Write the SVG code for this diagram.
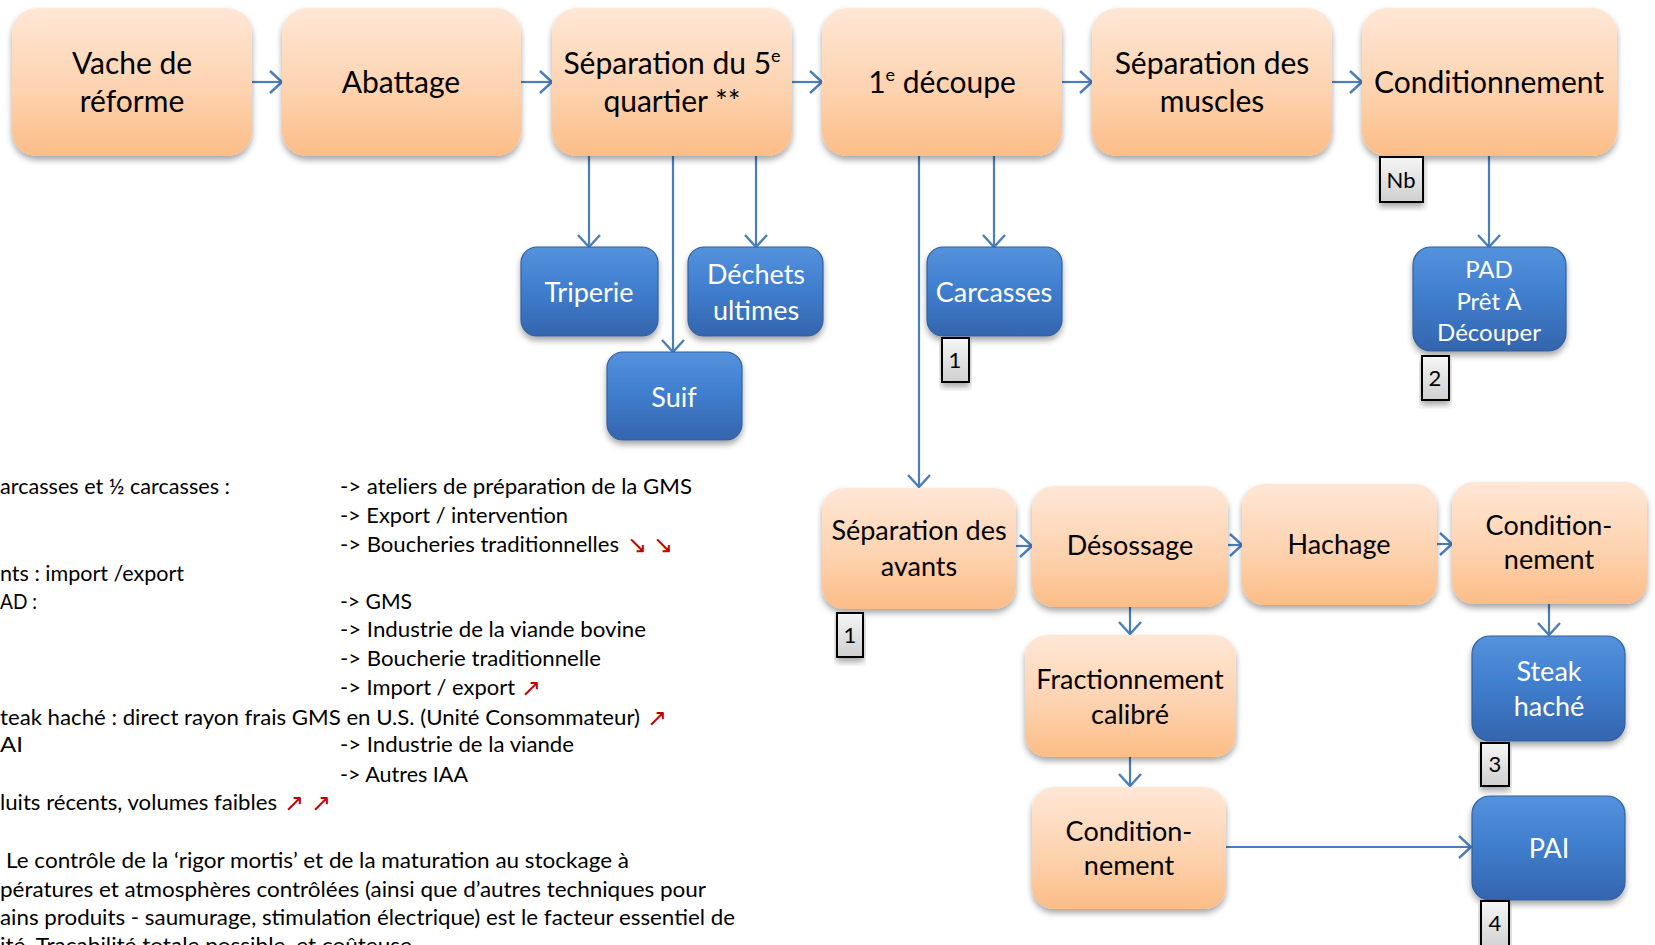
<svg xmlns="http://www.w3.org/2000/svg" width="1655" height="945" viewBox="0 0 1655 945">
  <defs>
    <linearGradient id="gOrange" x1="0" y1="0" x2="0" y2="1">
      <stop offset="0" stop-color="#fee7d6"/>
      <stop offset="0.55" stop-color="#fdd3b0"/>
      <stop offset="1" stop-color="#fcbd87"/>
    </linearGradient>
    <linearGradient id="gBlue" x1="0" y1="0" x2="0" y2="1">
      <stop offset="0" stop-color="#5592dc"/>
      <stop offset="0.45" stop-color="#407fcf"/>
      <stop offset="1" stop-color="#3465ad"/>
    </linearGradient>
    <linearGradient id="gTag" x1="0" y1="0" x2="0" y2="1">
      <stop offset="0" stop-color="#f6f6f6"/>
      <stop offset="1" stop-color="#cfcfcf"/>
    </linearGradient>
    <filter id="shadow" x="-10%" y="-10%" width="120%" height="130%">
      <feDropShadow dx="0" dy="4" stdDeviation="3" flood-color="#000" flood-opacity="0.35"/>
    </filter>
    <marker id="arrow" viewBox="0 0 14 24" refX="13" refY="12" markerWidth="14" markerHeight="24" markerUnits="userSpaceOnUse" orient="auto">
      <path d="M1,1 L13,12 L1,23" fill="none" stroke="#4a7ebb" stroke-width="2.4"/>
    </marker>
  </defs>
  <style>
    .proc rect { fill: url(#gOrange); filter: url(#shadow); }
    .prod rect { fill: url(#gBlue); stroke: #31609f; stroke-width: 1.2; filter: url(#shadow); }
    .tag rect { fill: url(#gTag); stroke: #000; stroke-width: 2; filter: url(#shadow); }
    .proc text { font-family: Lato, "Noto Sans", sans-serif; fill: #000; text-anchor: middle; }
    .prod text { font-family: Lato, "Noto Sans", sans-serif; fill: #fff; text-anchor: middle; }
    .tag text { font-family: Lato, "Noto Sans", sans-serif; fill: #000; font-size: 22px; text-anchor: middle; }
    .big { font-size: 30px; }
    .mid { font-size: 27px; }
    .blue { font-size: 27px; }
    .pad { font-size: 24px; }
    .sup { font-size: 18px; }
    #connectors path { fill: none; stroke: #4a7ebb; stroke-width: 2.2; marker-end: url(#arrow); }
    .legend text { font-family: Lato, "Noto Sans", sans-serif; font-size: 21px; fill: #000; }
    .legend .trend { font-family: "DejaVu Sans", sans-serif; fill: #c00000; font-size: 24px; }
  </style>

  <!-- connectors -->
  <g id="connectors">
    <path d="M252,82 H282"/>
    <path d="M521,82 H552"/>
    <path d="M792,82 H822"/>
    <path d="M1062,82 H1092"/>
    <path d="M1332,82 H1362"/>
    <path d="M589,156 V247"/>
    <path d="M673,156 V352"/>
    <path d="M756,156 V247"/>
    <path d="M919,156 V487"/>
    <path d="M994,156 V247"/>
    <path d="M1489,156 V247"/>
    <path d="M1016,546 H1032"/>
    <path d="M1228,545 H1242"/>
    <path d="M1437,544 H1452"/>
    <path d="M1130,607 V634"/>
    <path d="M1549,604 V635"/>
    <path d="M1130,757 V786"/>
    <path d="M1226,847 H1471"/>
  </g>

  <!-- main chain -->
  <g id="n-vache" class="proc">
    <rect x="12" y="8" width="240" height="148" rx="25"/>
    <text class="big" x="132" y="74">Vache de</text>
    <text class="big" x="132" y="112">réforme</text>
  </g>
  <g id="n-abattage" class="proc">
    <rect x="282" y="8" width="239" height="148" rx="25"/>
    <text class="big" x="401" y="93">Abattage</text>
  </g>
  <g id="n-separation5" class="proc">
    <rect x="552" y="8" width="240" height="148" rx="25"/>
    <text class="big" x="672" y="74">Séparation du 5<tspan class="sup" dy="-12">e</tspan></text>
    <text class="big" x="672" y="112">quartier **</text>
  </g>
  <g id="n-decoupe" class="proc">
    <rect x="822" y="8" width="240" height="148" rx="25"/>
    <text class="big" x="942" y="93">1<tspan class="sup" dy="-12">e</tspan><tspan dy="12"> découpe</tspan></text>
  </g>
  <g id="n-muscles" class="proc">
    <rect x="1092" y="8" width="240" height="148" rx="25"/>
    <text class="big" x="1212" y="74">Séparation des</text>
    <text class="big" x="1212" y="112">muscles</text>
  </g>
  <g id="n-cond1" class="proc">
    <rect x="1362" y="8" width="255" height="148" rx="25"/>
    <text class="big" x="1489" y="93">Conditionnement</text>
  </g>

  <!-- fifth-quarter outputs -->
  <g id="n-triperie" class="prod">
    <rect x="521" y="247" width="137" height="89" rx="16"/>
    <text class="blue" x="589" y="302">Triperie</text>
  </g>
  <g id="n-dechets" class="prod">
    <rect x="688" y="247" width="135" height="89" rx="16"/>
    <text class="blue" x="756" y="284">Déchets</text>
    <text class="blue" x="756" y="320">ultimes</text>
  </g>
  <g id="n-suif" class="prod">
    <rect x="607" y="352" width="135" height="88" rx="16"/>
    <text class="blue" x="674" y="407">Suif</text>
  </g>
  <g id="n-carcasses" class="prod">
    <rect x="927" y="247" width="135" height="89" rx="16"/>
    <text class="blue" x="994" y="302">Carcasses</text>
  </g>
  <g id="n-pad" class="prod">
    <rect x="1413" y="247" width="153" height="104" rx="18"/>
    <text class="pad" x="1489" y="278">PAD</text>
    <text class="pad" x="1489" y="310">Prêt À</text>
    <text class="pad" x="1489" y="341">Découper</text>
  </g>

  <!-- forequarter chain -->
  <g id="n-avants" class="proc">
    <rect x="822" y="488" width="194" height="121" rx="22"/>
    <text class="mid" x="919" y="540">Séparation des</text>
    <text class="mid" x="919" y="576">avants</text>
  </g>
  <g id="n-desossage" class="proc">
    <rect x="1032" y="486" width="196" height="121" rx="22"/>
    <text class="mid" x="1130" y="555">Désossage</text>
  </g>
  <g id="n-hachage" class="proc">
    <rect x="1242" y="484" width="195" height="121" rx="22"/>
    <text class="mid" x="1339" y="554">Hachage</text>
  </g>
  <g id="n-cond2" class="proc">
    <rect x="1452" y="482" width="195" height="122" rx="22"/>
    <text class="mid" x="1549" y="535">Condition-</text>
    <text class="mid" x="1549" y="569">nement</text>
  </g>
  <g id="n-fraction" class="proc">
    <rect x="1025" y="635" width="211" height="122" rx="22"/>
    <text class="mid" x="1130" y="689">Fractionnement</text>
    <text class="mid" x="1130" y="724">calibré</text>
  </g>
  <g id="n-cond3" class="proc">
    <rect x="1032" y="787" width="194" height="122" rx="22"/>
    <text class="mid" x="1129" y="841">Condition-</text>
    <text class="mid" x="1129" y="875">nement</text>
  </g>
  <g id="n-steak" class="prod">
    <rect x="1472" y="636" width="153" height="105" rx="18"/>
    <text class="blue" x="1549" y="681">Steak</text>
    <text class="blue" x="1549" y="716">haché</text>
  </g>
  <g id="n-pai" class="prod">
    <rect x="1472" y="796" width="153" height="104" rx="18"/>
    <text class="blue" x="1549" y="858">PAI</text>
  </g>

  <!-- numbered tags -->
  <g id="t-nb" class="tag">
    <rect x="1380" y="157" width="43" height="45"/>
    <text x="1401" y="188">Nb</text>
  </g>
  <g id="t-1a" class="tag">
    <rect x="942" y="338" width="27" height="44"/>
    <text x="955" y="368">1</text>
  </g>
  <g id="t-2" class="tag">
    <rect x="1422" y="356" width="27" height="44"/>
    <text x="1435" y="386">2</text>
  </g>
  <g id="t-1b" class="tag">
    <rect x="837" y="613" width="26" height="44"/>
    <text x="850" y="643">1</text>
  </g>
  <g id="t-3" class="tag">
    <rect x="1481" y="743" width="28" height="43"/>
    <text x="1495" y="772">3</text>
  </g>
  <g id="t-4" class="tag">
    <rect x="1481" y="901" width="28" height="50"/>
    <text x="1495" y="931">4</text>
  </g>

  <!-- legend text -->
  <g id="legend" class="legend">
    <text x="0" y="494" textLength="230" lengthAdjust="spacingAndGlyphs">arcasses et ½ carcasses :</text>
    <text x="340" y="494" textLength="352" lengthAdjust="spacingAndGlyphs">-&gt; ateliers de préparation de la GMS</text>
    <text x="340" y="523" textLength="228" lengthAdjust="spacingAndGlyphs">-&gt; Export / intervention</text>
    <text x="340" y="552" textLength="279" lengthAdjust="spacingAndGlyphs">-&gt; Boucheries traditionnelles</text>
    <text class="trend" x="627" y="553">↘</text>
    <text class="trend" x="653" y="553">↘</text>
    <text x="0" y="581" textLength="184" lengthAdjust="spacingAndGlyphs">nts : import /export</text>
    <text x="0" y="609" textLength="37" lengthAdjust="spacingAndGlyphs">AD :</text>
    <text x="340" y="609" textLength="72" lengthAdjust="spacingAndGlyphs">-&gt; GMS</text>
    <text x="340" y="637" textLength="306" lengthAdjust="spacingAndGlyphs">-&gt; Industrie de la viande bovine</text>
    <text x="340" y="666" textLength="261" lengthAdjust="spacingAndGlyphs">-&gt; Boucherie traditionnelle</text>
    <text x="340" y="695" textLength="175" lengthAdjust="spacingAndGlyphs">-&gt; Import / export</text>
    <text class="trend" x="521" y="696">↗</text>
    <text x="0" y="725" textLength="640" lengthAdjust="spacingAndGlyphs">teak haché : direct rayon frais GMS en U.S. (Unité Consommateur)</text>
    <text class="trend" x="647" y="726">↗</text>
    <text x="0" y="752" textLength="23" lengthAdjust="spacingAndGlyphs">AI</text>
    <text x="340" y="752" textLength="234" lengthAdjust="spacingAndGlyphs">-&gt; Industrie de la viande</text>
    <text x="340" y="782" textLength="128" lengthAdjust="spacingAndGlyphs">-&gt; Autres IAA</text>
    <text x="0" y="810" textLength="277" lengthAdjust="spacingAndGlyphs">luits récents, volumes faibles</text>
    <text class="trend" x="284" y="811">↗</text>
    <text class="trend" x="311" y="811">↗</text>
    <text x="6" y="868" textLength="623" lengthAdjust="spacingAndGlyphs">Le contrôle de la ‘rigor mortis’ et de la maturation au stockage à</text>
    <text x="0" y="897" textLength="706" lengthAdjust="spacingAndGlyphs">pératures et atmosphères contrôlées (ainsi que d’autres techniques pour</text>
    <text x="0" y="925" textLength="735" lengthAdjust="spacingAndGlyphs">ains produits - saumurage, stimulation électrique) est le facteur essentiel de</text>
    <text x="0" y="953" textLength="412" lengthAdjust="spacingAndGlyphs">ité. Traçabilité totale possible, et coûteuse</text>
  </g>
</svg>
